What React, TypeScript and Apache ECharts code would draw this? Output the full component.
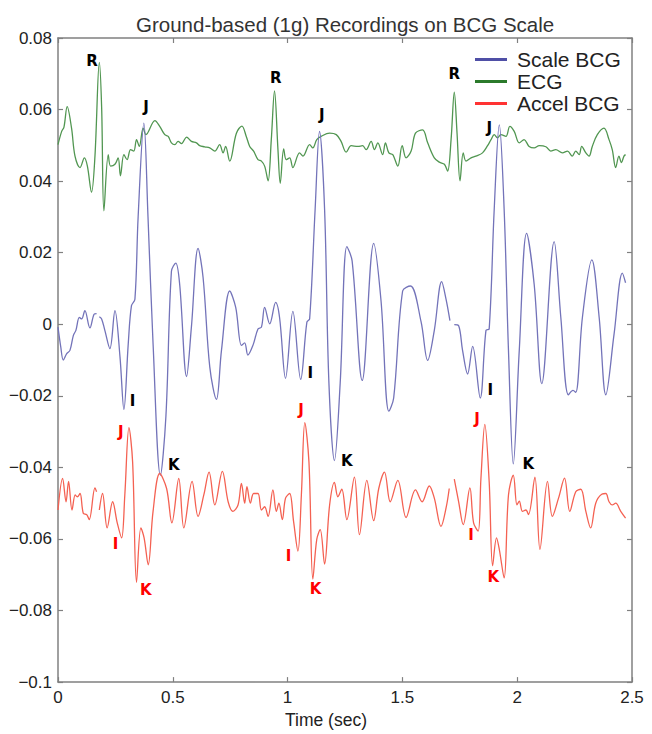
import React, { useEffect, useRef } from "react";
import * as echarts from "echarts";

// ---- Data (time in seconds, value on BCG scale) ----
const ecgT = [0.000,0.016,0.026,0.040,0.059,0.074,0.096,0.115,0.128,0.146,0.161,0.180,0.190,0.200,0.219,0.229,0.248,0.262,0.272,0.287,0.301,0.316,0.330,0.342,0.354,0.371,0.383,0.422,0.443,0.465,0.480,0.494,0.509,0.523,0.538,0.560,0.581,0.603,0.617,0.639,0.661,0.683,0.704,0.719,0.730,0.748,0.777,0.801,0.820,0.835,0.852,0.871,0.886,0.900,0.915,0.929,0.943,0.958,0.968,0.983,0.994,1.009,1.023,1.052,1.067,1.096,1.110,1.127,1.146,1.183,1.212,1.233,1.255,1.277,1.306,1.327,1.342,1.364,1.378,1.393,1.414,1.426,1.441,1.458,1.480,1.499,1.516,1.538,1.557,1.588,1.610,1.639,1.661,1.683,1.697,1.712,1.726,1.738,1.751,1.765,1.777,1.799,1.820,1.849,1.871,1.886,1.900,1.914,1.929,1.951,1.968,1.987,2.009,2.030,2.052,2.074,2.096,2.125,2.146,2.168,2.197,2.219,2.240,2.255,2.270,2.281,2.299,2.313,2.327,2.349,2.378,2.400,2.414,2.429,2.443,2.454,2.465,2.472];
const ecgV = [0.0502,0.0539,0.0551,0.0608,0.0548,0.0470,0.0438,0.0465,0.0442,0.0369,0.0470,0.0732,0.0608,0.0317,0.0474,0.0442,0.0447,0.0465,0.0415,0.0474,0.0460,0.0488,0.0484,0.0516,0.0497,0.0548,0.0530,0.0569,0.0553,0.0530,0.0525,0.0507,0.0502,0.0511,0.0505,0.0523,0.0511,0.0507,0.0499,0.0496,0.0493,0.0484,0.0502,0.0479,0.0497,0.0456,0.0534,0.0554,0.0525,0.0497,0.0484,0.0460,0.0456,0.0442,0.0401,0.0516,0.0652,0.0488,0.0394,0.0490,0.0460,0.0465,0.0438,0.0479,0.0470,0.0502,0.0493,0.0516,0.0525,0.0534,0.0530,0.0511,0.0481,0.0499,0.0497,0.0499,0.0488,0.0511,0.0488,0.0507,0.0474,0.0507,0.0479,0.0474,0.0442,0.0499,0.0465,0.0484,0.0534,0.0543,0.0507,0.0465,0.0453,0.0447,0.0428,0.0516,0.0649,0.0534,0.0401,0.0479,0.0456,0.0465,0.0470,0.0479,0.0499,0.0516,0.0530,0.0521,0.0530,0.0525,0.0553,0.0539,0.0507,0.0516,0.0497,0.0493,0.0499,0.0496,0.0484,0.0488,0.0479,0.0484,0.0470,0.0484,0.0474,0.0497,0.0479,0.0470,0.0497,0.0530,0.0548,0.0516,0.0488,0.0438,0.0470,0.0452,0.0470,0.0474];

const scaleT = [0.000,0.012,0.023,0.038,0.052,0.067,0.078,0.093,0.103,0.117,0.139,0.157,0.168,0.174,0.180,0.190,0.204,0.226,0.248,0.270,0.287,0.306,0.320,0.335,0.349,0.374,0.392,0.414,0.446,0.470,0.494,0.513,0.530,0.560,0.581,0.610,0.632,0.661,0.690,0.712,0.748,0.774,0.799,0.813,0.827,0.849,0.871,0.886,0.900,0.922,0.948,0.965,0.991,1.023,1.057,1.084,1.096,1.120,1.139,1.161,1.180,1.204,1.229,1.258,1.281,1.325,1.375,1.407,1.441,1.462,1.501,1.535,1.581,1.610,1.639,1.671,1.690,1.707,1.716,1.726,1.745,1.762,1.784,1.806,1.839,1.864,1.878,1.900,1.922,1.943,1.962,1.983,2.009,2.041,2.074,2.107,2.161,2.190,2.223,2.243,2.255,2.284,2.325,2.357,2.386,2.422,2.458,2.472];
const scaleV = [-0.0008,-0.0063,-0.0100,-0.0082,-0.0073,-0.0031,-0.0017,0.0019,0.0015,0.0038,-0.0010,0.0028,0.0030,null,0.0021,0.0015,-0.0017,-0.0068,0.0038,-0.0091,-0.0238,-0.0054,0.0052,0.0070,0.0300,0.0562,0.0300,-0.0054,-0.0422,-0.0257,0.0148,0.0171,0.0111,-0.0146,-0.0008,0.0212,0.0130,-0.0119,-0.0210,-0.0073,0.0093,0.0047,-0.0059,-0.0052,-0.0086,-0.0059,-0.0013,-0.0008,0.0047,0.0001,0.0061,0.0019,-0.0151,0.0036,-0.0154,0.0006,0.0015,0.0323,0.0539,0.0323,-0.0165,-0.0381,-0.0165,0.0217,0.0177,-0.0157,0.0226,0.0065,-0.0243,-0.0206,0.0093,0.0107,0.0008,-0.0101,-0.0017,0.0119,0.0070,0.0010,null,-0.0001,-0.0004,-0.0073,-0.0139,-0.0062,-0.0206,-0.0017,-0.0013,0.0323,0.0557,0.0323,-0.0073,-0.0390,-0.0073,0.0254,0.0111,-0.0166,0.0231,0.0019,-0.0197,-0.0185,-0.0190,0.0019,0.0180,0.0019,-0.0197,-0.0027,0.0143,0.0116];

const accelT = [0.000,0.020,0.035,0.046,0.061,0.075,0.084,0.096,0.110,0.125,0.136,0.161,0.168,0.174,0.180,0.194,0.214,0.238,0.258,0.277,0.291,0.309,0.325,0.342,0.361,0.375,0.393,0.414,0.443,0.473,0.496,0.526,0.548,0.584,0.610,0.635,0.658,0.683,0.716,0.741,0.762,0.784,0.799,0.813,0.823,0.838,0.852,0.871,0.886,0.900,0.915,0.936,0.951,0.962,0.977,0.991,1.009,1.026,1.045,1.060,1.075,1.093,1.110,1.127,1.142,1.161,1.183,1.204,1.219,1.236,1.258,1.291,1.313,1.345,1.375,1.397,1.422,1.447,1.480,1.516,1.557,1.586,1.617,1.639,1.668,1.690,1.704,1.715,1.726,1.745,1.765,1.794,1.810,1.830,1.842,1.859,1.878,1.893,1.910,1.922,1.943,1.962,1.983,1.999,2.009,2.023,2.038,2.049,2.077,2.099,2.132,2.153,2.180,2.206,2.229,2.255,2.277,2.299,2.320,2.342,2.368,2.386,2.400,2.414,2.429,2.451,2.472];
const accelV = [-0.0519,-0.0431,-0.0496,-0.0439,-0.0519,-0.0477,-0.0482,-0.0473,-0.0528,-0.0532,-0.0546,-0.0457,-0.0468,null,-0.0519,-0.0473,-0.0569,-0.0496,-0.0555,-0.0597,-0.0477,-0.0289,-0.0385,-0.0721,-0.0569,-0.0597,-0.0672,-0.0523,-0.0417,-0.0459,-0.0555,-0.0431,-0.0569,-0.0439,-0.0537,-0.0477,-0.0413,-0.0505,-0.0411,-0.0496,-0.0523,-0.0505,-0.0445,-0.0500,-0.0454,-0.0500,-0.0473,-0.0473,-0.0519,-0.0510,-0.0537,-0.0463,-0.0523,-0.0500,-0.0546,-0.0486,-0.0473,-0.0551,-0.0634,-0.0477,-0.0275,-0.0385,-0.0712,-0.0601,-0.0574,-0.0670,-0.0505,-0.0442,-0.0482,-0.0461,-0.0546,-0.0427,-0.0588,-0.0436,-0.0549,-0.0459,-0.0413,-0.0496,-0.0436,-0.0540,-0.0463,-0.0496,-0.0452,-0.0486,-0.0565,-0.0514,-0.0459,null,-0.0433,-0.0496,-0.0560,-0.0457,-0.0555,-0.0578,-0.0431,-0.0280,-0.0441,-0.0675,-0.0597,-0.0629,-0.0709,-0.0477,-0.0422,-0.0505,-0.0494,-0.0523,-0.0519,-0.0532,-0.0427,-0.0629,-0.0439,-0.0537,-0.0486,-0.0430,-0.0523,-0.0468,-0.0461,-0.0523,-0.0569,-0.0500,-0.0475,-0.0473,-0.0496,-0.0505,-0.0500,-0.0523,-0.0542];

// Annotation letters (black, on ECG / Scale BCG)
const blackLabels = ["R", "R", "R", "J", "J", "J", "I", "I", "I", "K", "K", "K"];
const blackT = [0.148, 0.948, 1.726, 0.383, 1.149, 1.878, 0.325, 1.099, 1.883, 0.504, 1.258, 2.048];
const blackV = [0.0736, 0.0687, 0.0698, 0.0607, 0.0585, 0.0548, -0.0215, -0.0137, -0.0185, -0.0393, -0.0383, -0.0390];
// Annotation letters (red, on Accel BCG)
const redLabels = ["J", "J", "J", "I", "I", "I", "K", "K", "K"];
const redT = [0.274, 1.059, 1.825, 0.251, 1.004, 1.799, 0.383, 1.122, 1.896];
const redV = [-0.0301, -0.0240, -0.0264, -0.0615, -0.0647, -0.0588, -0.0744, -0.0739, -0.0707];

const xTicks = [0, 0.5, 1, 1.5, 2, 2.5];

const FONT = "'Liberation Sans', Arial, Helvetica, sans-serif";
const BOLD_FONT = "'DejaVu Sans', 'Liberation Sans', Arial, sans-serif";

function pairs(t: number[], v: (number | null)[]) {
  return t.map((x, i) => [x, v[i] === null ? "-" : v[i]]);
}

function fmtY(v: number) {
  const r = Math.round(v * 100) / 100;
  if (r === 0) return "0";
  return r < 0 ? "\u2212" + String(Math.abs(r)) : String(r);
}

export default function App() {
  const ref = useRef<HTMLDivElement>(null);
  useEffect(() => {
    if (!ref.current) return;
    const chart = echarts.init(ref.current, undefined, { renderer: "svg" });
    const axisLine = { show: true, onZero: false, lineStyle: { color: "#808080", width: 1.5 } };
    const axisTick = { show: true, inside: true, length: 5, lineStyle: { color: "#808080", width: 1.2 } };
    const annot = (labels: string[], t: number[], v: number[], color: string, name: string) => ({
      type: "scatter",
      name,
      z: 10,
      silent: true,
      symbolSize: 10,
      itemStyle: { color: "rgba(0,0,0,0)" },
      label: {
        show: true,
        position: "inside",
        formatter: (p: any) => p.name,
        color,
        opacity: 1,
        textBorderWidth: 0,
        fontFamily: BOLD_FONT,
        fontWeight: "bold",
        fontSize: 15,
      },
      data: labels.map((l, i) => ({ name: l, value: [t[i], v[i]] })),
    });
    chart.setOption({
      animation: false,
      title: {
        text: "Ground-based (1g) Recordings on BCG Scale",
        left: 131,
        top: 9,
        textStyle: { fontFamily: FONT, fontSize: 20.5, fontWeight: "normal", color: "#333" },
      },
      legend: {
        orient: "vertical",
        left: 475,
        top: 49,
        padding: 0,
        itemWidth: 32,
        itemHeight: 3,
        itemGap: 1,
        icon: "rect",
        textStyle: { fontFamily: FONT, fontSize: 21, color: "#222", padding: [0, 0, 0, 5] },
        data: [
          { name: "Scale BCG", itemStyle: { color: "#4f4fa6" } },
          { name: "ECG", itemStyle: { color: "#2b7a2b" } },
          { name: "Accel BCG", itemStyle: { color: "#ff3333" } },
        ],
      },
      grid: { left: 58, right: 20, top: 38, bottom: 45, containLabel: false },
      xAxis: [
        {
          type: "value",
          min: xTicks[0],
          max: xTicks[xTicks.length - 1],
          interval: 0.5,
          position: "bottom",
          axisLine,
          axisTick,
          splitLine: { show: false },
          axisLabel: { fontFamily: FONT, fontSize: 17, color: "#222", margin: 7 },
          name: "Time (sec)",
          nameLocation: "middle",
          nameGap: 22,
          nameTextStyle: { fontFamily: FONT, fontSize: 17.5, color: "#222", padding: [0, 38, 0, 0] },
        },
        {
          type: "value",
          min: xTicks[0],
          max: xTicks[xTicks.length - 1],
          interval: 0.5,
          position: "top",
          axisLine,
          axisTick,
          splitLine: { show: false },
          axisLabel: { show: false },
        },
      ],
      yAxis: [
        {
          type: "value",
          min: -0.1,
          max: 0.08,
          interval: 0.02,
          position: "left",
          axisLine,
          axisTick,
          splitLine: { show: false },
          axisLabel: { fontFamily: FONT, fontSize: 17, color: "#222", margin: 6, formatter: fmtY },
        },
        {
          type: "value",
          min: -0.1,
          max: 0.08,
          interval: 0.02,
          position: "right",
          axisLine,
          axisTick,
          splitLine: { show: false },
          axisLabel: { show: false },
        },
      ],
      series: [
        {
          type: "line",
          name: "ECG",
          data: pairs(ecgT, ecgV),
          showSymbol: false,
          symbol: "none",
          smooth: 0.35,
          connectNulls: false,
          color: "#3d8a3d",
          lineStyle: { width: 1.3, color: "#519651" },
          z: 2,
        },
        {
          type: "line",
          name: "Scale BCG",
          data: pairs(scaleT, scaleV),
          showSymbol: false,
          symbol: "none",
          smooth: 0.35,
          connectNulls: false,
          color: "#6262b0",
          lineStyle: { width: 1.3, color: "#7373b9" },
          z: 3,
        },
        {
          type: "line",
          name: "Accel BCG",
          data: pairs(accelT, accelV),
          showSymbol: false,
          symbol: "none",
          smooth: 0.35,
          connectNulls: false,
          color: "#f2503f",
          lineStyle: { width: 1.3, color: "#f46152" },
          z: 4,
        },
        annot(blackLabels, blackT, blackV, "#000000", "annBlack"),
        annot(redLabels, redT, redV, "#ff0000", "annRed"),
      ],
    });
    return () => chart.dispose();
  }, []);
  return (
    <div
      ref={ref}
      style={{ position: "fixed", left: 0, top: 0, width: 652, height: 734, background: "#fff" }}
    />
  );
}
